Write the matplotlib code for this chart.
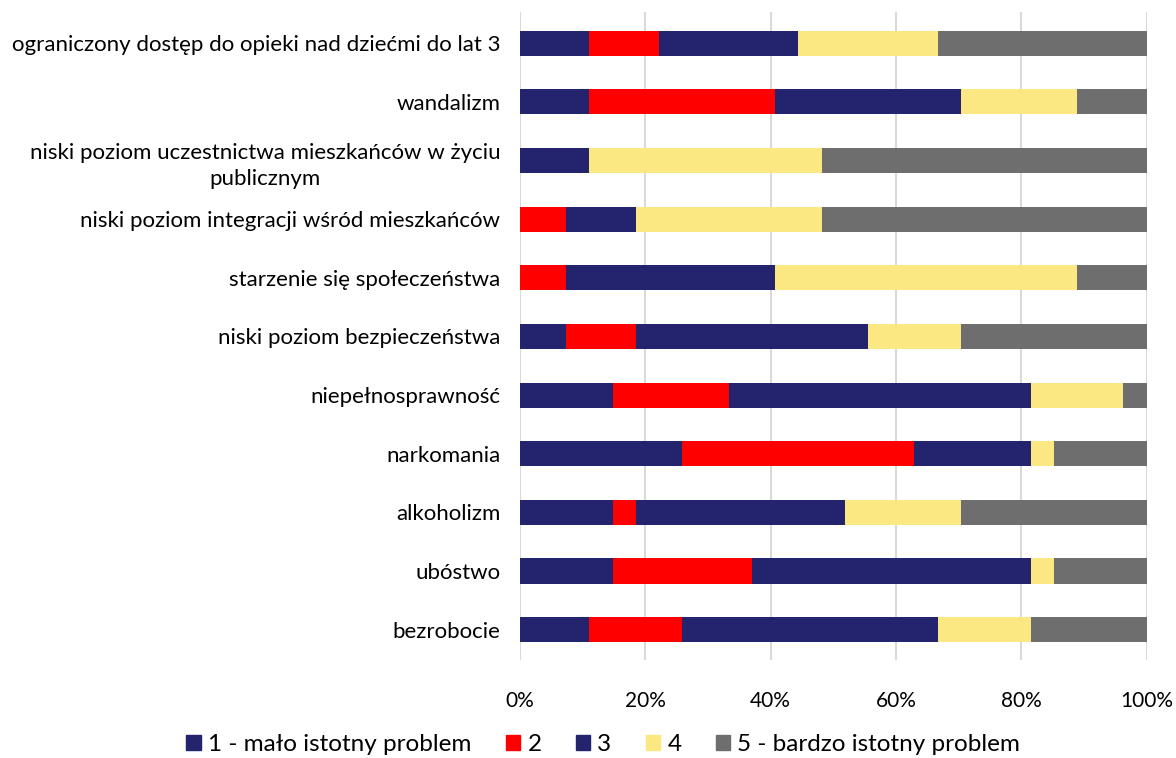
import numpy as np
import matplotlib.pyplot as plt
from matplotlib.patches import Patch

plt.rcParams['font.family'] = ['Lato', 'DejaVu Sans']

# --- dane (liczba odpowiedzi, 27 ankiet) ---
categories = [
    "ograniczony dostęp do opieki nad dziećmi do lat 3",
    "wandalizm",
    "niski poziom uczestnictwa mieszkańców w życiu\npublicznym",
    "niski poziom integracji wśród mieszkańców",
    "starzenie się społeczeństwa",
    "niski poziom bezpieczeństwa",
    "niepełnosprawność",
    "narkomania",
    "alkoholizm",
    "ubóstwo",
    "bezrobocie",
]
s1 = [3, 3, 3, 0, 0, 2, 4, 7, 4, 4, 3]
s2 = [3, 8, 0, 2, 2, 3, 5, 10, 1, 6, 4]
s3 = [6, 8, 0, 3, 9, 10, 13, 5, 9, 12, 11]
s4 = [6, 5, 10, 8, 13, 4, 4, 1, 5, 1, 4]
s5 = [9, 3, 14, 14, 3, 8, 1, 4, 8, 4, 5]
series_names = ["1 - mało istotny problem", "2", "3", "4", "5 - bardzo istotny problem"]
colors = ["#23236E", "#FF0000", "#23236E", "#FCE883", "#6E6E6E"]

data = np.array([s1, s2, s3, s4, s5], dtype=float)
pct = data / data.sum(axis=0) * 100

fig = plt.figure(figsize=(11.76, 7.58), dpi=100)
ax = fig.add_axes([0.442, 0.129, 0.533, 0.855])

y = np.arange(len(categories))
left = np.zeros(len(categories))
for i in range(5):
    ax.barh(y, pct[i], left=left, height=0.43, color=colors[i], zorder=3)
    left += pct[i]

ax.set_xlim(0, 100)
ax.set_ylim(10.52, -0.53)
ax.set_xticks(np.arange(0, 101, 20))
ax.set_xticklabels([f"{v}%" for v in range(0, 101, 20)], fontsize=15)
ax.set_yticks(y)
ax.set_yticklabels(categories, fontsize=16, multialignment="center",
                   linespacing=1.4)
ax.tick_params(axis="y", length=0, pad=14)
ax.tick_params(axis="x", length=0, pad=22)
ax.grid(axis="x", color="#D9D9D9", linewidth=1.5, zorder=0)
for sp in ax.spines.values():
    sp.set_visible(False)

handles = [Patch(color=c) for c in colors]
fig.legend(handles, series_names, loc="lower center", ncol=5, frameon=False,
           fontsize=17.5, bbox_to_anchor=(0.513, -0.025), handlelength=0.6,
           handleheight=0.6, handletextpad=0.3, columnspacing=1.4)

fig.savefig("out.png", dpi=100)
